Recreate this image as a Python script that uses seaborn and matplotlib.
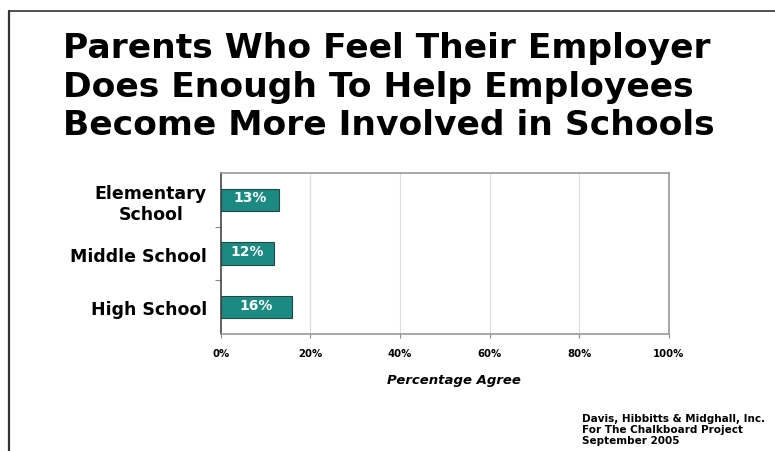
import matplotlib
matplotlib.use("Agg")
import matplotlib.pyplot as plt
from matplotlib.lines import Line2D
import seaborn as sns
import pandas as pd

categories = ["Elementary\nSchool", "Middle School", "High School"]
values = [13, 12, 16]
value_labels = ["13%", "12%", "16%"]
x_ticks = [0, 20, 40, 60, 80, 100]
x_tick_labels = ["0%", "20%", "40%", "60%", "80%", "100%"]
title = "Parents Who Feel Their Employer\nDoes Enough To Help Employees\nBecome More Involved in Schools"
x_label = "Percentage Agree"
source = "Davis, Hibbitts & Midghall, Inc.\nFor The Chalkboard Project\nSeptember 2005"

sns.set_theme(style="white")
plt.rcParams['font.family'] = ['DejaVu Sans']
plt.rcParams['text.color'] = 'black'
plt.rcParams['xtick.color'] = 'black'
plt.rcParams['ytick.color'] = 'black'
plt.rcParams['axes.labelcolor'] = 'black'

df = pd.DataFrame({"category": categories, "value": values})

fig = plt.figure(figsize=(7.75, 4.52), dpi=100)
fig.patch.set_facecolor("white")
ax = fig.add_axes([220.7/775, 1-335/452, (669-220.7)/775, (335-174.3)/452])

sns.barplot(data=df, x="value", y="category", color="#1b8a82", saturation=1,
            width=0.42, edgecolor="#1e4a45", linewidth=0.8, ax=ax)

ax.set_xlim(0, 100)
ax.set_ylim(2.5, -0.5)
ax.set_xticks(x_ticks)
ax.set_xticklabels(x_tick_labels, fontsize=7.3, fontweight="bold")
ax.set_xlabel(x_label, fontsize=9.5, fontweight="bold", style="italic")
ax.xaxis.set_label_coords((454 - 220.7) / (669 - 220.7), -0.24)
ax.set_ylabel("")
ax.set_yticks([0, 1, 2])
ax.set_yticklabels(categories, fontsize=12.5, fontweight="bold", ha="right",
                   multialignment="center")
ax.tick_params(axis="y", length=0, pad=10)
ax.tick_params(axis="x", length=3, width=0.8, direction="out", pad=7, colors="#888888", labelcolor="black", bottom=True)
ax.set_yticks([0.5, 1.5], minor=True)
ax.tick_params(axis="y", which="minor", length=4, width=0.8, color="#888888", left=True)

for x in x_ticks[1:-1]:
    ax.axvline(x, color="#dddddd", linewidth=0.8, zorder=0)

for sp in ["top", "right", "bottom"]:
    ax.spines[sp].set_color("#999999")
    ax.spines[sp].set_linewidth(1.2)
ax.spines["left"].set_color("#444444")
ax.spines["left"].set_linewidth(1.2)

for i, (v, lab) in enumerate(zip(values, value_labels)):
    ax.text(v / 2, i - 0.05, lab, ha="center", va="center", color="white",
            fontsize=10, fontweight="bold")

fig.text(63/775, 1-32/452, title, ha="left", va="top", fontsize=24.8,
         fontweight="bold", linespacing=1.22)

fig.text(582/775, 1-414/452, source, ha="left", va="top", fontsize=7.5,
         fontweight="bold", linespacing=1.1)

# frame border
fig.add_artist(Line2D([9/775, 9/775], [0, 1-12/452], transform=fig.transFigure,
                      color="#333333", linewidth=1.6))
fig.add_artist(Line2D([9/775, 1], [1-12/452, 1-12/452], transform=fig.transFigure,
                      color="#333333", linewidth=1.2))

fig.savefig("out.png", dpi=100)
